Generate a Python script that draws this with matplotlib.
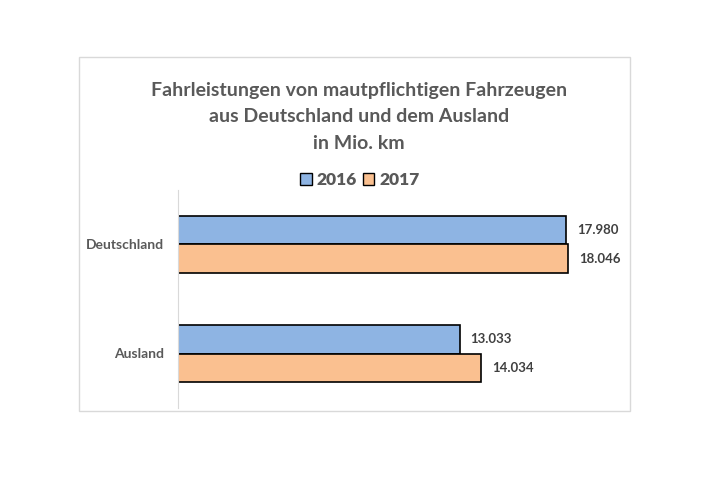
import matplotlib.pyplot as plt
from matplotlib.patches import Rectangle, Patch

categories = ["Deutschland", "Ausland"]
years = ["2016", "2017"]
values_2016 = [17980, 13033]
values_2017 = [18046, 14034]

blue = "#8EB4E3"
orange = "#FAC090"
text_gray = "#595959"

plt.rcParams['font.family'] = ['Lato', 'DejaVu Sans']

W, H = 727, 480
fig = plt.figure(figsize=(W / 100, H / 100), dpi=100)

# chart frame
fig.patches.append(Rectangle((79 / W, 1 - 411 / H), (630 - 79) / W, (411 - 57) / H,
                             transform=fig.transFigure, fill=False,
                             edgecolor="#d9d9d9", linewidth=1))

ax = fig.add_axes([178 / W, 1 - 408 / H, (610 - 178) / W, (408 - 190) / H])

h = 0.266
y = list(range(len(categories)))
b1 = ax.barh([i - h / 2 for i in y], values_2016, height=h, color=blue,
             edgecolor="black", linewidth=1.2, label=years[0])
b2 = ax.barh([i + h / 2 for i in y], values_2017, height=h, color=orange,
             edgecolor="black", linewidth=1.2, label=years[1])

for bars, vals in ((b1, values_2016), (b2, values_2017)):
    for bar, v in zip(bars, vals):
        ax.annotate(f"{v:,}".replace(",", "."),
                    (bar.get_width(), bar.get_y() + bar.get_height() / 2),
                    xytext=(8, 0), textcoords="offset points",
                    va="center", ha="left", fontsize=9.5, fontweight="bold",
                    color="#404040")

ax.set_xlim(0, 20000)
ax.set_ylim(1.5, -0.5)
ax.set_yticks(y)
ax.set_yticklabels(categories, fontsize=10, fontweight="bold", color=text_gray)
ax.tick_params(axis="y", length=0, pad=10)
ax.set_xticks([])
for s in ("top", "right", "bottom"):
    ax.spines[s].set_visible(False)
ax.spines["left"].set_color("#d9d9d9")

fig.text(359 / W, 1 - 117 / H,
         "Fahrleistungen von mautpflichtigen Fahrzeugen\naus Deutschland und dem Ausland\nin Mio. km",
         ha="center", va="center", fontsize=14, fontweight="bold",
         color=text_gray, linespacing=1.65)

handles = [Patch(facecolor=blue, edgecolor="black", label=years[0]),
           Patch(facecolor=orange, edgecolor="black", label=years[1])]
leg = fig.legend(handles=handles, loc="center", bbox_to_anchor=(360 / W, 1 - 180 / H),
                 ncol=2, frameon=False, fontsize=12.5, handlelength=0.65,
                 handleheight=0.65, handletextpad=0.3, columnspacing=0.35)
for t in leg.get_texts():
    t.set_fontweight("heavy")
    t.set_color(text_gray)

fig.savefig("out.png", dpi=100, facecolor="white")
